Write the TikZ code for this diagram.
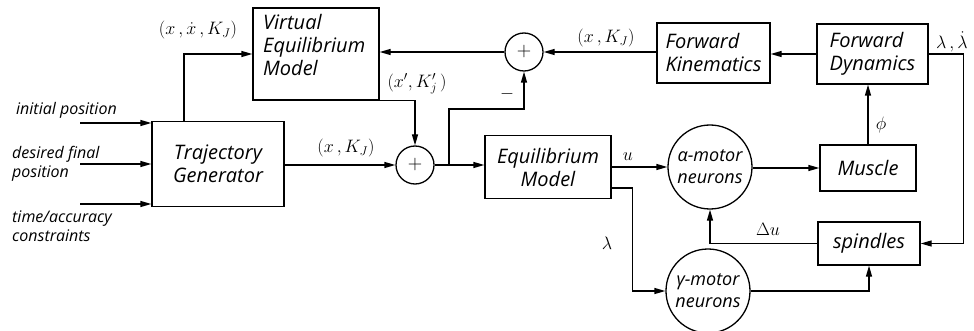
\RequirePackage{fix-cm}
\documentclass[tikz,border=0pt]{standalone}
\usepackage{fontspec}
\setmainfont{Open Sans}
\usetikzlibrary{arrows.meta,calc}
\newcommand\boxfont{\fontsize{20}{23}\selectfont\itshape}
\newcommand\neurfont{\fontsize{18}{22}\selectfont\itshape}
\newcommand\inlfont{\fontsize{16}{19}\selectfont\itshape}
\begin{document}
\begin{tikzpicture}[x=1pt,y=-1pt,
  lw/.style={line width=1.3pt},
  box/.style={draw,lw,rectangle,inner sep=0pt,font=\boxfont},
  sumc/.style={draw,lw,circle,minimum size=38pt,inner sep=0pt,font=\fontsize{20}{20}\selectfont},
  neur/.style={draw,lw,circle,inner sep=0pt,minimum size=84pt,align=center,font=\neurfont},
  arr/.style={lw,-{Triangle[length=11pt,width=6pt]}},
  ml/.style={font=\fontsize{18}{20}\selectfont,inner sep=0pt},
  inl/.style={font=\inlfont,align=left,inner sep=0pt}]
\useasboundingbox (0,0) rectangle (974,331);
% blocks
\node[box,minimum width=132pt,minimum height=85pt,align=center] (tg) at (218,164) {Trajectory\\Generator};
\node[box,minimum width=126pt,minimum height=92pt] (vem) at (316,54) {};
\node[anchor=north west,align=left,font=\boxfont,inner sep=0pt] (vemt) at (263,14) {Virtual\\Equilibrium\\Model};
\node[sumc] (s1) at (524,52) {$+$};
\node[box,minimum width=113pt,minimum height=60pt,align=left] (fk) at (713.5,53) {Forward\\Kinematics};
\node[box,minimum width=111pt,minimum height=60pt,align=left] (fd) at (872.5,54) {Forward\\Dynamics};
\node[sumc] (s2) at (415,165) {$+$};
\node[box,minimum width=126pt,minimum height=63pt,align=center] (em) at (548,167) {Equilibrium\\Model};
\node[neur] (al) at (710,167) {α-motor\\neurons};
\node[box,minimum width=96pt,minimum height=46pt] (mu) at (868,168) {Muscle};
\node[box,minimum width=102pt,minimum height=43pt] (sp) at (869,243.5) {spindles};
\node[neur] (ga) at (708,291) {γ-motor\\neurons};
% input coordinates
\coordinate (in1) at (80,123);
\coordinate (in2) at (80,164);
\coordinate (in3) at (80,204);
\coordinate (fb) at (449,165);
% connectors
\draw[arr] (in1) -- (in1 -| tg.west);
\draw[arr] (in2) -- (in2 -| tg.west);
\draw[arr] (in3) -- (in3 -| tg.west);
\draw[arr] ([xshift=-34pt]tg.north) |- (vem.west);
\draw[arr] (tg.east |- s2) -- (s2.west);
\draw[arr] (vem.south east) -| (s2.north);
\draw[arr] (s2.east) -- (s2 -| em.west);
\draw[arr] (fb) -- ++(0,-56) -| (s1.south);
\draw[arr] (s1.west) -- (s1 -| vem.east);
\draw[arr] (s1 -| fk.west) -- (s1.east);
\draw[arr] (fd.west) -- (fd.west -| fk.east);
\draw[arr] (mu.north) -- (mu.north |- fd.south);
\draw[arr] (em.east) -- (al.west);
\draw[arr] (al.east |- mu.west) -- (mu.west);
\draw[arr] ([yshift=-21pt]em.east) -- ++(21,0) |- (ga.west);
\draw[arr] (fd.east) -- ++(35,0) |- (sp.east);
\draw[arr] (sp.west) -| (al.south);
\draw[arr] (ga.east) -| (sp.south);
% labels
\node[ml] (l1) at (198,30) {$(x\,,\dot{x}\,,K_J)$};
\node[ml] (l2) at (346,148) {$(x\,,K_J)$};
\node[ml] (l3) at (417,84) {$(x',K_j'\,)$};
\node[ml] (l4) at (606,38) {$(x\,,K_J)$};
\node[ml] (l5) at (507,94) {$-$};
\node[ml] (l6) at (628,157) {$u$};
\node[ml] (l7) at (607,243) {$\lambda$};
\node[ml] (l8) at (881,125) {$\phi$};
\node[ml] (l9) at (768,229) {$\Delta u$};
\node[ml,anchor=west] (l10) at (936,42) {$\lambda\,,\dot{\lambda}$};
\node[inl,anchor=west] (t1) at (16,110) {initial position};
\node[inl,anchor=west] (t2) at (12,164) {desired final\\position};
\node[inl,anchor=north west] (t3) at (12,211) {time/accuracy\\constraints};
\end{tikzpicture}
\end{document}
